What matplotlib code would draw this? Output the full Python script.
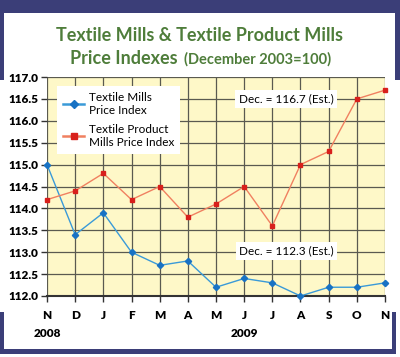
import matplotlib
matplotlib.use("Agg")
import matplotlib.pyplot as plt
from matplotlib.patches import Rectangle
from matplotlib.lines import Line2D

months = ["N", "D", "J", "F", "M", "A", "M", "J", "J", "A", "S", "O", "N"]
textile_mills = [115.0, 113.4, 113.9, 113.0, 112.7, 112.8, 112.2, 112.4, 112.3, 112.0, 112.2, 112.2, 112.3]
textile_product = [114.2, 114.4, 114.8, 114.2, 114.5, 113.8, 114.1, 114.5, 113.6, 115.0, 115.3, 116.5, 116.7]
yticks = [112.0, 112.5, 113.0, 113.5, 114.0, 114.5, 115.0, 115.5, 116.0, 116.5, 117.0]
years = [("2008", 0), ("2009", 7)]

W, H = 400, 357
fig = plt.figure(figsize=(W / 100, H / 100), dpi=100)
fig.patch.set_facecolor("white")

# frame (pixel coordinates)
bg = fig.add_axes([0, 0, 1, 1], zorder=-5)
bg.set_xlim(0, W)
bg.set_ylim(H, 0)
bg.axis("off")
navy = "#3B3E78"
for (x, y, w, h) in [(0, 0, 400, 13), (0, 0, 4, 80), (395, 0, 5, 80),
                     (0, 312, 4, 42), (0, 349, 396, 5), (392, 312, 4, 42)]:
    bg.add_patch(Rectangle((x, y), w, h, color=navy, lw=0))

green = "#4E7D3A"
fs_title = 13
fig.text(200 / W, 1 - 41 / H, "Textile Mills & Textile Product Mills", ha="center",
         va="baseline", fontsize=fs_title, fontweight="bold", color=green, family="Lato")
fig.text(178 / W, 1 - 64 / H, "Price Indexes", ha="right", va="baseline",
         fontsize=fs_title, fontweight="bold", color=green, family="Lato")
fig.text(184 / W, 1 - 64 / H, "(December 2003=100)", ha="left", va="baseline",
         fontsize=10.5, fontweight="bold", color=green, family="Lato")

ax = fig.add_axes([47 / W, 1 - 296 / H, 338 / W, 219 / H])
ax.set_facecolor("#FEF8C8")
x = list(range(len(months)))
ax.set_xlim(0, len(months) - 1)
ax.set_ylim(112.0, 117.0)
ax.set_yticks(yticks)
ax.set_yticklabels([f"{v:.1f}" for v in yticks], fontsize=8.5, fontweight="heavy", family="Lato")
ax.set_xticks(x)
ax.set_xticklabels(months, fontsize=8.5, fontweight="heavy", family="Lato")
ax.grid(True, color="#5A5A50", lw=0.9)
ax.set_axisbelow(True)
for s in ["top", "right", "left"]:
    ax.spines[s].set_visible(False)
ax.spines["bottom"].set_color("#333333")
ax.spines["bottom"].set_linewidth(1.5)
ax.tick_params(axis="y", length=4, width=1, color="#333333", pad=2)
ax.tick_params(axis="x", length=4, width=1, color="#333333", pad=6)

ax.plot(x, textile_mills, color="#3A9AD8", lw=1, marker="D", ms=3.2,
        mfc="#1872C4", mec="#1872C4", clip_on=False, zorder=5)
ax.plot(x, textile_product, color="#F08060", lw=1, marker="s", ms=3.2,
        mfc="#D8201C", mec="#D8201C", clip_on=False, zorder=5)

for label, idx in years:
    ax.text(idx, -0.145, label, transform=ax.get_xaxis_transform(), ha="center",
            va="top", fontsize=8.5, fontweight="heavy", family="Lato")

handles = [
    Line2D([], [], color="#3A9AD8", lw=1.8, marker="D", ms=4.5, mfc="#1872C4", mec="#1872C4"),
    Line2D([], [], color="#F08060", lw=1.8, marker="s", ms=4.5, mfc="#D8201C", mec="#D8201C"),
]
leg = ax.legend(handles, ["Textile Mills\nPrice Index", "Textile Product\nMills Price Index"],
                loc="upper left", bbox_to_anchor=(10 / 338, 1 - 9 / 219), borderaxespad=0,
                frameon=True, fancybox=False, framealpha=1, edgecolor="white",
                handlelength=1.8, borderpad=0.5, labelspacing=0.7, handletextpad=0.4,
                prop={"family": "Lato", "size": 8.5})
leg.get_frame().set_linewidth(0)

box = dict(boxstyle="square,pad=0.3", fc="white", ec="none")
ax.text(8.5, 116.5, "Dec. = 116.7 (Est.)", ha="center", va="center", fontsize=8.5,
        family="Lato", bbox=box, zorder=6)
ax.text(8.5, 113.03, "Dec. = 112.3 (Est.)", ha="center", va="center", fontsize=8.5,
        family="Lato", bbox=box, zorder=6)

fig.savefig("out.png", dpi=100)
